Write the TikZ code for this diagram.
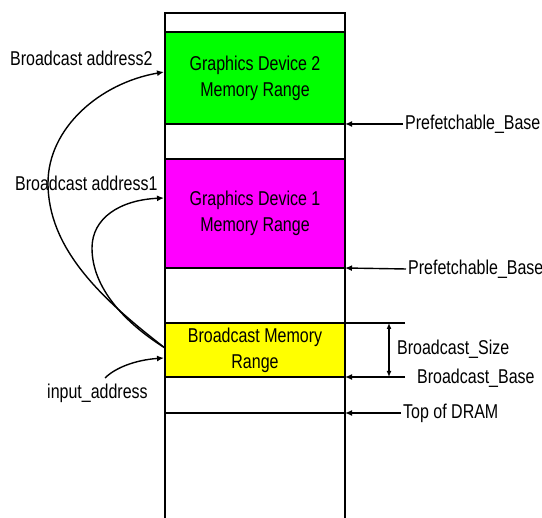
\documentclass[tikz,border=0pt]{standalone}
\usepackage{fontspec}
\setmainfont{Liberation Sans}[FakeStretch=0.8]
\usepackage{xcolor}
\usetikzlibrary{arrows.meta}

\definecolor{gdtwo}{RGB}{0,255,0}
\definecolor{gdone}{RGB}{255,0,255}
\definecolor{bcast}{RGB}{255,255,0}

\begin{document}
\begin{tikzpicture}[x=1pt,y=1pt,
        % define styles
        region/.style={
             draw,
             line width=1.5pt,
             minimum width=180pt,
             inner sep=0pt,
             align=center,
             font=\fontsize{20}{26}\selectfont
        },
        lbl/.style={
            inner sep=2pt,
            anchor=west,
            font=\fontsize{20}{24}\selectfont
        },
        ptr/.style={
            line width=1.4pt,
            -{Latex[length=7pt,width=6pt]}
        }
    ]
    \useasboundingbox (0,0) rectangle (542,518);

    % memory column
    \draw[line width=1.5pt] (165,0) -- (165,505) -- (345,505) -- (345,0);
    \draw[line width=1.5pt] (165,105) -- (345,105);
    \node[region,fill=gdtwo,minimum height=92pt] at (255,440) (gd2) {Graphics Device 2\\Memory Range};
    \node[region,fill=gdone,minimum height=109pt] at (255,304.5) (gd1) {Graphics Device 1\\Memory Range};
    \node[region,fill=bcast,minimum height=54pt] at (255,168) (bc) {Broadcast Memory\\Range};

    % points on the column
    \coordinate (pb2) at (345,394);
    \coordinate (pb1) at (345,250);
    \coordinate (bb) at (345,141);
    \coordinate (bs) at (345,195);
    \coordinate (tod) at (345,105);
    \coordinate (ba2) at (164,446);
    \coordinate (ba1) at (164,320);
    \coordinate (bsrc) at (165,170);
    \coordinate (bin) at (164,160);

    % right side labels
    \node[lbl] at (403,394) (pb2lbl) {Prefetchable\_Base};
    \node[lbl] at (406,249) (pb1lbl) {Prefetchable\_Base};
    \node[lbl] at (395,169) (bslbl) {Broadcast\_Size};
    \node[lbl] at (415,140) (bblbl) {Broadcast\_Base};
    \node[lbl] at (401,105) (todlbl) {Top of DRAM};
    \coordinate (bbend) at (405,141);
    \coordinate (bsend) at (405,195);

    \draw[ptr] (pb2lbl.west) -- (pb2);
    \draw[ptr] (pb1lbl.west) -- (pb1);
    \draw[ptr] (bbend) -- (bb);
    \draw[ptr] (todlbl.west) -- (tod);
    \draw[line width=1.4pt] (bsend) -- (bs);
    \draw[line width=1.4pt,{Latex[length=6pt,width=5pt]}-{Latex[length=6pt,width=5pt]}] (389,195) -- (389,141);

    % left side labels
    \node[lbl] at (8,460) (ba2lbl) {Broadcast address2};
    \node[lbl] at (13,335) (ba1lbl) {Broadcast address1};
    \node[lbl] at (45,125) (inlbl) {input\_address};

    \draw[ptr] (bsrc) .. controls (100,220) and (48,270) .. (48,335)
        .. controls (48,390) and (100,435) .. (ba2);
    \draw[ptr] (bsrc) .. controls (125,195) and (92,230) .. (92,270)
        .. controls (92,300) and (120,318) .. (ba1);
    \draw[ptr] (105,140) .. controls (115,150) and (135,158) .. (bin);
\end{tikzpicture}
\end{document}
